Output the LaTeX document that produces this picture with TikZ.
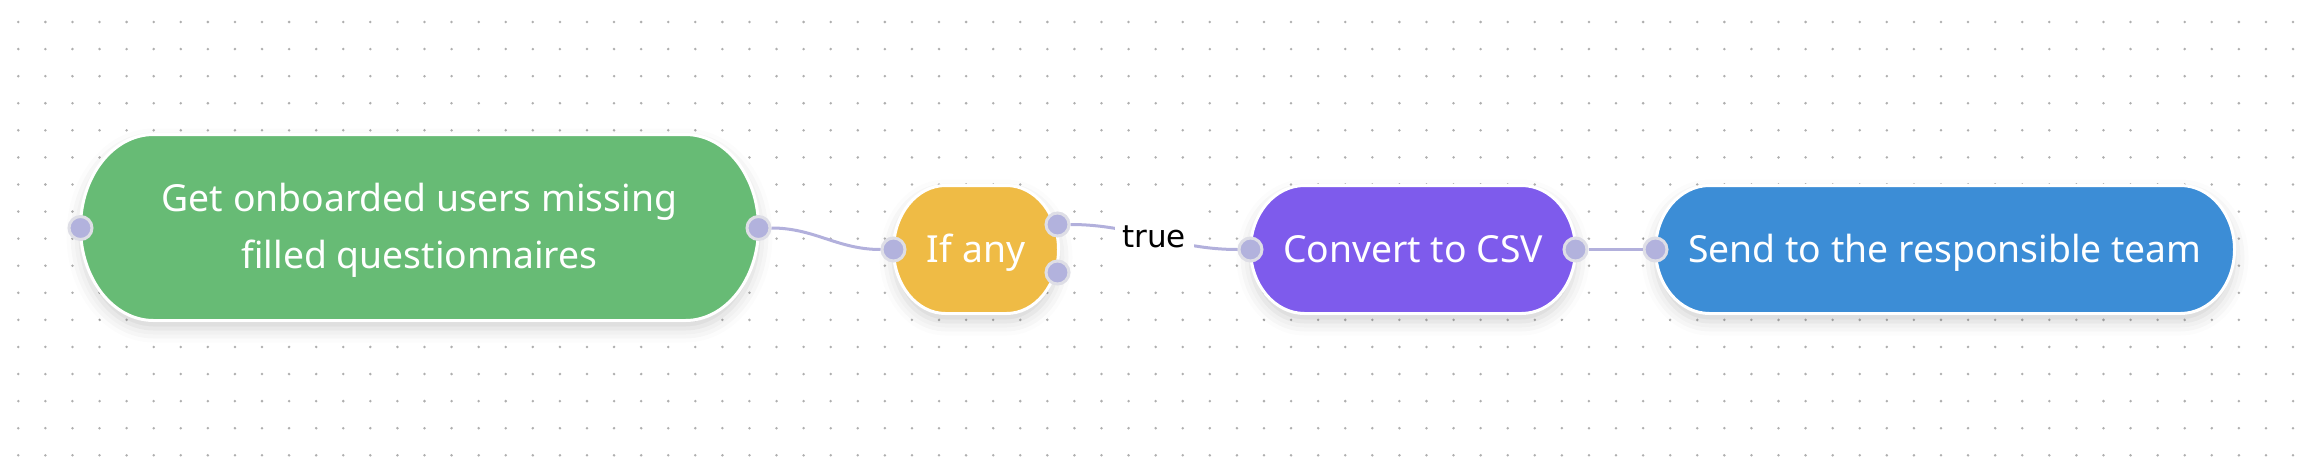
\documentclass[tikz,border=0pt]{standalone}
\usepackage{fontspec}
\setmainfont{Noto Sans}
\newfontfamily\truefont{DejaVu Sans}
\usetikzlibrary{shadows.blur}

\definecolor{stepgreen}{RGB}{103,187,117}
\definecolor{stepyellow}{RGB}{239,187,69}
\definecolor{steppurple}{RGB}{126,91,236}
\definecolor{stepblue}{RGB}{60,141,214}
\definecolor{portfill}{RGB}{178,178,221}
\definecolor{portline}{RGB}{222,222,230}
\definecolor{linkcolor}{RGB}{178,176,220}
\definecolor{dotgrey}{RGB}{175,175,175}

\tikzset{
  stepnode/.style={rectangle, text=white, inner sep=0pt, outer sep=0pt,
    minimum height=128pt, text height=26.6pt, text depth=0pt, align=center,
    font=\fontsize{37.3}{57}\selectfont},
  pillshape/.style={draw=white, line width=3pt,
    blur shadow={shadow xshift=0pt, shadow yshift=-8pt,
      shadow blur radius=14pt, shadow opacity=18}},
  port/.style={circle, fill=portfill, draw=portline, line width=3pt,
    minimum size=23pt, inner sep=0pt},
  link/.style={draw=linkcolor, line width=3pt},
  truelabel/.style={fill=white, text=black, inner sep=0pt,
    minimum width=79pt, minimum height=64pt,
    font=\truefont\fontsize{31}{40}\selectfont}
}

% pill: centre x, centre y, half width, half height, x radius, colour
\newcommand{\stepshape}[6]{%
  \path[pillshape, fill=#6] ({#1-#3+#5},{#2-#4}) -- ({#1+#3-#5},{#2-#4})
    arc[start angle=90, end angle=-90, x radius=#5pt, y radius=#4pt]
    -- ({#1-#3+#5},{#2+#4})
    arc[start angle=270, end angle=90, x radius=#5pt, y radius=#4pt] -- cycle;
}

\begin{document}
\begin{tikzpicture}[x=1pt, y=-1pt]
  \useasboundingbox (0,0) rectangle (2308,474);
  \foreach \i in {0,...,84}
    \foreach \j in {0,...,16}
      \fill[dotgrey] (18.3+27.08*\i, 22+27.08*\j) circle (1.4pt);

  \stepshape{419.5}{227.5}{339}{93}{73}{stepgreen}
  \stepshape{976}{249.5}{82.5}{64}{52}{stepyellow}
  \stepshape{1413}{249.5}{162.5}{64}{54}{steppurple}
  \stepshape{1945}{249.5}{289.5}{64}{54}{stepblue}

  \node[stepnode, minimum width=678pt, minimum height=186pt, text height=, text depth=] (get)
    at (419.5,230.5) {Get onboarded users missing\\filled questionnaires};
  \node[stepnode, minimum width=165pt] (if) at (976,249.5) {If any};
  \node[stepnode, minimum width=325pt] (csv) at (1413,249.5) {Convert to CSV};
  \node[stepnode, minimum width=579pt] (send) at (1945,249.5) {Send to the responsible team};

  \node[port] (get-in) at ([yshift=2.5pt]get.west) {};
  \node[port] (get-out) at ([yshift=2.5pt]get.east) {};
  \node[port] (if-in) at (if.west) {};
  \node[port] (if-true) at ([xshift=-1pt, yshift=25pt]if.east) {};
  \node[port] (if-false) at ([xshift=-1pt, yshift=-23pt]if.east) {};
  \node[port] (csv-in) at (csv.west) {};
  \node[port] (csv-out) at (csv.east) {};
  \node[port] (send-in) at (send.west) {};

  \draw[link] (get-out) to[out=0, in=180] (if-in);
  \draw[link] (if-true) to[out=0, in=180] node[truelabel] {true} (csv-in);
  \draw[link] (csv-out) -- (send-in);
\end{tikzpicture}
\end{document}
